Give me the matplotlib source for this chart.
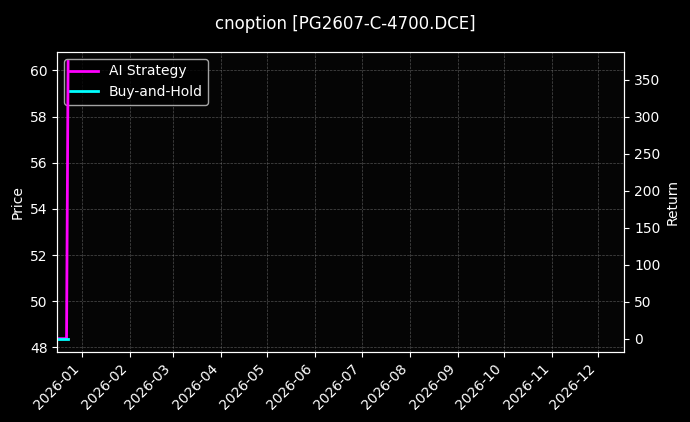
import matplotlib
matplotlib.use("Agg")
import matplotlib.pyplot as plt
import matplotlib.dates as mdates
import pandas as pd

dates = pd.to_datetime(["2025-12-16", "2025-12-17", "2025-12-18", "2025-12-19", "2025-12-22", "2025-12-23"])
ai_return = [0, 0, 0, 0, 0, 375]
bh_return = [0, 0, 0, 0, 0, 0]
price = [48.4, 48.4, 48.4, 48.4, 48.4, 60.2]

plt.style.use("dark_background")
fig, ax = plt.subplots(figsize=(6.9, 4.22), dpi=100)
fig.patch.set_facecolor("black")
ax.set_facecolor("#050505")

ax.plot(dates, price, color="black", alpha=0.0)
ax.set_ylim(47.8, 60.8)
ax.set_ylabel("Price")
ax.grid(True, color="gray", linestyle="--", linewidth=0.5, alpha=0.6)

ax2 = ax.twinx()
l1, = ax2.plot(dates, ai_return, color="magenta", linewidth=2, label="AI Strategy")
l2, = ax2.plot(dates, bh_return, color="cyan", linewidth=2, label="Buy-and-Hold")
ax2.set_ylim(-18, 388)
ax2.set_ylabel("Return")

ax.set_xlim(pd.Timestamp("2025-12-16"), pd.Timestamp("2026-12-18"))
ax.xaxis.set_major_locator(mdates.MonthLocator())
ax.xaxis.set_major_formatter(mdates.DateFormatter("%Y-%m"))
plt.setp(ax.get_xticklabels(), rotation=45, ha="right")

ax.legend([l1, l2], ["AI Strategy", "Buy-and-Hold"], loc="upper left")
fig.suptitle("cnoption [PG2607-C-4700.DCE]", y=0.965)
fig.subplots_adjust(left=0.083, right=0.905, top=0.877, bottom=0.166)
fig.savefig("out.png")
